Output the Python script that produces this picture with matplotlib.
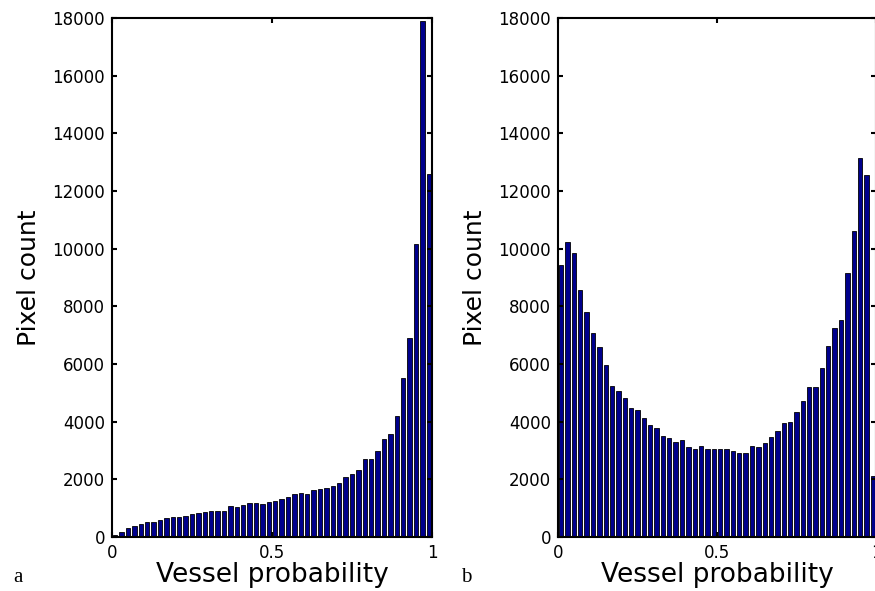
import matplotlib.pyplot as plt
import numpy as np

# histogram counts, 50 bins on [0, 1]
counts_a = [80, 170, 320, 390, 445, 525, 530, 600, 660, 690,
            700, 740, 810, 820, 860, 910, 890, 900, 1060, 1030,
            1110, 1170, 1170, 1145, 1215, 1240, 1320, 1400, 1500, 1530,
            1500, 1640, 1660, 1685, 1765, 1880, 2080, 2200, 2330, 2715,
            2690, 3000, 3390, 3580, 4200, 5500, 6900, 10150, 17900, 12600]
counts_b = [9430, 10240, 9850, 8580, 7810, 7070, 6590, 5970, 5240, 5080,
            4810, 4460, 4390, 4140, 3880, 3780, 3520, 3430, 3290, 3350,
            3120, 3050, 3140, 3050, 3050, 3060, 3050, 2990, 2900, 2930,
            3170, 3130, 3260, 3460, 3690, 3970, 3990, 4350, 4720, 5210,
            5210, 5860, 6640, 7250, 7520, 9160, 10620, 13150, 12550, 2120]
yticks = list(range(0, 18001, 2000))
xticks = [0, 0.5, 1]
xticklabels = ['0', '0.5', '1']
panel_labels = ['a', 'b']

W, H = 875, 591
fig = plt.figure(figsize=(W / 100, H / 100), dpi=100)

bottom = 1 - 537 / H
height = 519 / H
ax1 = fig.add_axes([112 / W, bottom, 320 / W, height])
ax2 = fig.add_axes([558 / W, bottom, 318 / W, height])

nbins = len(counts_a)
centers = (np.arange(nbins) + 0.5) / nbins

for ax, counts, lab, lx in [(ax1, counts_a, panel_labels[0], 18),
                            (ax2, counts_b, panel_labels[1], 466)]:
    ax.bar(centers, counts, width=0.68 / nbins, color='#00008C',
           edgecolor='black', linewidth=0.6)
    ax.set_xlim(0, 1)
    ax.set_ylim(0, 18000)
    ax.set_xticks(xticks)
    ax.set_xticklabels(xticklabels)
    ax.set_yticks(yticks)
    ax.set_yticklabels([str(v) for v in yticks])
    ax.tick_params(direction='in', top=True, right=True, length=3.6,
                   width=1.5, labelsize=12, pad=5)
    for s in ax.spines.values():
        s.set_linewidth(1.5)
    ax.set_xlabel('Vessel probability', fontsize=19, labelpad=0)
    ax.set_ylabel('Pixel count', fontsize=18, labelpad=8)
    fig.text(lx / W, 1 - 577 / H, lab, family='Liberation Serif',
             fontsize=15, ha='center', va='center')

fig.savefig('out.png', dpi=100)
